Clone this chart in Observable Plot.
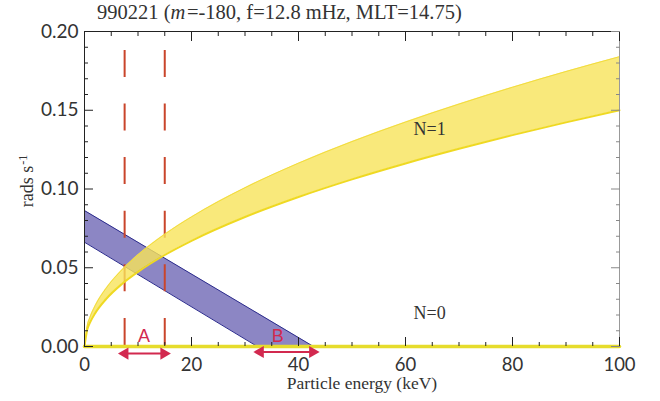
<!DOCTYPE html>
<html><head><meta charset="utf-8">
<script src="https://cdn.jsdelivr.net/npm/d3@7"></script>
<script src="https://cdn.jsdelivr.net/npm/@observablehq/plot@0.6"></script>
<style>
body{margin:0;background:#fff;}
#wrap{position:relative;width:660px;height:401px;overflow:hidden;}
#title{position:absolute;left:97px;top:2px;font:20.5px "Liberation Serif",serif;line-height:20px;color:#333;white-space:nowrap;}
#ylab{position:absolute;left:27px;top:181px;transform:translate(-50%,-50%) rotate(-90deg);font:18px "Liberation Serif",serif;color:#333;white-space:nowrap;}
#ylab sup{font-size:12px;vertical-align:6px;line-height:0;margin-left:1px;}
</style></head>
<body><div id="wrap">
<div id="chart"></div>
<div id="title">990221 (<i>m</i>&#8202;=-180, f=12.8 mHz, MLT=14.75)</div>
<div id="ylab">rads s<sup>-1</sup></div>
</div>
<script>
// N=1 resonance band (yellow)
const energyN1 = [0, 0.5, 1, 2, 4, 7, 10, 15, 20, 30, 40, 50, 60, 70, 80, 90, 100];
const n1Upper  = [0, 0.013, 0.0184, 0.026, 0.0368, 0.0487, 0.0582, 0.0713, 0.0823, 0.1008, 0.1164, 0.1301, 0.1425, 0.1539, 0.1646, 0.1746, 0.184];
const n1Lower  = [0, 0.0106, 0.015, 0.0212, 0.030, 0.0397, 0.0474, 0.0581, 0.0671, 0.0822, 0.0949, 0.1061, 0.1162, 0.1255, 0.1342, 0.1423, 0.150];
// N=0 band (blue)
const energyN0 = [0, 32.3, 42.8];
const n0Upper  = [0.0863, 0.0212, 0];
const n0Lower  = [0.0662, 0, 0];
// N=0 flat line along zero
const energyZero = [0, 100];
const zeroLine = [0, 0];
// dashed energy cut-offs
const cutoffs = [7.5, 15];
const cutoffTop = 0.188;
// arrows
const arrowNames = ["A", "B"];
const arrowStart = [7.0, 32.3];
const arrowEnd = [15.4, 43.2];
const arrowY = [-0.0045, -0.0035];
const arrowLabelX = [11.1, 36.1];
const arrowLabelY = [0.0068, 0.0068];
// band labels
const bandNames = ["N=1", "N=0"];
const bandLabelX = [64.5, 64.5];
const bandLabelY = [0.138, 0.021];
// ticks
const xMajor = [0, 20, 40, 60, 80, 100];
const xMinor = [5, 10, 15, 25, 30, 35, 45, 50, 55, 65, 70, 75, 85, 90, 95];
const yMajor = [0, 0.05, 0.10, 0.15, 0.20];
const yMinor = [0.01,0.02,0.03,0.04,0.06,0.07,0.08,0.09,0.11,0.12,0.13,0.14,0.16,0.17,0.18,0.19];

const n1 = energyN1.map((x, i) => ({x, lo: n1Lower[i], hi: n1Upper[i]}));
const n0 = energyN0.map((x, i) => ({x, lo: n0Lower[i], hi: n0Upper[i]}));
const zero = energyZero.map((x, i) => ({x, y: zeroLine[i]}));
const arrows = arrowNames.map((name, i) => ({name, x1: arrowStart[i], x2: arrowEnd[i], y: arrowY[i], lx: arrowLabelX[i], ly: arrowLabelY[i]}));
const bands = bandNames.map((name, i) => ({name, x: bandLabelX[i], y: bandLabelY[i]}));

const yellow = "#f8e45a";
const blue = "#8c86c4";
const red = "#c9452b";
const crimson = "#d2294f";

const chart = Plot.plot({
  width: 660, height: 401,
  marginLeft: 84, marginRight: 41, marginTop: 31, marginBottom: 55,
  x: {domain: [0, 100]},
  y: {domain: [0, 0.2]},
  style: {fontFamily: "Lato, 'Liberation Sans', sans-serif", fontSize: "19px", color: "#333", background: "transparent"},
  marks: [
    // blue N=0 band
    Plot.areaY(n0, {x: "x", y1: "lo", y2: "hi", fill: blue}),
    Plot.line(n0, {x: "x", y: "hi", stroke: "#2b2b8c", strokeWidth: 1}),
    Plot.line(n0, {x: "x", y: "lo", stroke: "#2b2b8c", strokeWidth: 1}),
    // dashed cutoffs
    Plot.ruleX(cutoffs, {x: d => d, y1: cutoffTop, y2: 0, stroke: red, strokeWidth: 2, strokeDasharray: "27,26.6"}),
    // yellow N=1 band
    Plot.areaY(n1, {x: "x", y1: "lo", y2: "hi", fill: yellow, fillOpacity: 0.8, curve: "monotone-x"}),
    Plot.line(n1, {x: "x", y: "hi", stroke: "#f2dc3c", strokeWidth: 1, curve: "monotone-x"}),
    Plot.line(n1, {x: "x", y: "lo", stroke: "#efd922", strokeWidth: 2, curve: "monotone-x"}),
    // frame
    Plot.ruleX([0], {stroke: "#222"}),
    Plot.ruleX([100], {stroke: "#999"}),
    Plot.ruleY([0.2], {stroke: "#222"}),
    // yellow zero line
    Plot.line(zero, {x: "x", y: "y", stroke: "#e6dc2c", strokeWidth: 3.5}),
    // ticks (inward)
    Plot.axisX({anchor: "bottom", ticks: xMajor, tickSize: -9, fill: "none", stroke: "#222"}),
    Plot.axisX({anchor: "bottom", ticks: xMinor, tickSize: -4, fill: "none", stroke: "#222"}),
    Plot.axisX({anchor: "top", ticks: xMajor, tickSize: -9, fill: "none", stroke: "#222"}),
    Plot.axisX({anchor: "top", ticks: xMinor, tickSize: -4, fill: "none", stroke: "#222"}),
    Plot.axisY({anchor: "left", ticks: yMajor, tickSize: -9, fill: "none", stroke: "#222"}),
    Plot.axisY({anchor: "left", ticks: yMinor, tickSize: -4, fill: "none", stroke: "#222"}),
    Plot.axisY({anchor: "right", ticks: yMajor, tickSize: -9, fill: "none", stroke: "#888"}),
    Plot.axisY({anchor: "right", ticks: yMinor, tickSize: -4, fill: "none", stroke: "#888"}),
    // tick labels
    Plot.axisX({anchor: "bottom", ticks: xMajor, tickSize: 0, tickPadding: 11, tickFormat: d3.format("d"), label: null, fill: "#333", fontSize: 18.5}),
    Plot.axisY({anchor: "left", ticks: yMajor, tickSize: 0, tickPadding: 6, tickFormat: d3.format(".2f"), label: null, fill: "#333"}),
    // x label
    Plot.text(["Particle energy (keV)"], {frameAnchor: "bottom", dx: 10, dy: 42, fontFamily: "Liberation Serif", fontSize: 17.5, fill: "#333"}),
    // band labels
    Plot.text(bands, {x: "x", y: "y", text: "name", fontFamily: "Liberation Serif", fontSize: 18, fill: "#333"}),
    // arrows
    Plot.link(arrows, {x1: "x1", x2: "x2", y1: "y", y2: "y", stroke: crimson, strokeWidth: 2}),
    Plot.dot(arrows, {x: "x2", y: "y", symbol: "triangle", r: 4.5, rotate: 90, dx: -3, fill: crimson, stroke: "none"}),
    Plot.dot(arrows, {x: "x1", y: "y", symbol: "triangle", r: 4.5, rotate: -90, dx: 3, fill: crimson, stroke: "none"}),
    Plot.text(arrows, {x: "lx", y: "ly", text: "name", fontFamily: "Liberation Sans", fontSize: 18, fill: crimson})
  ]
});
document.getElementById("chart").appendChild(chart);
</script>
</body></html>
